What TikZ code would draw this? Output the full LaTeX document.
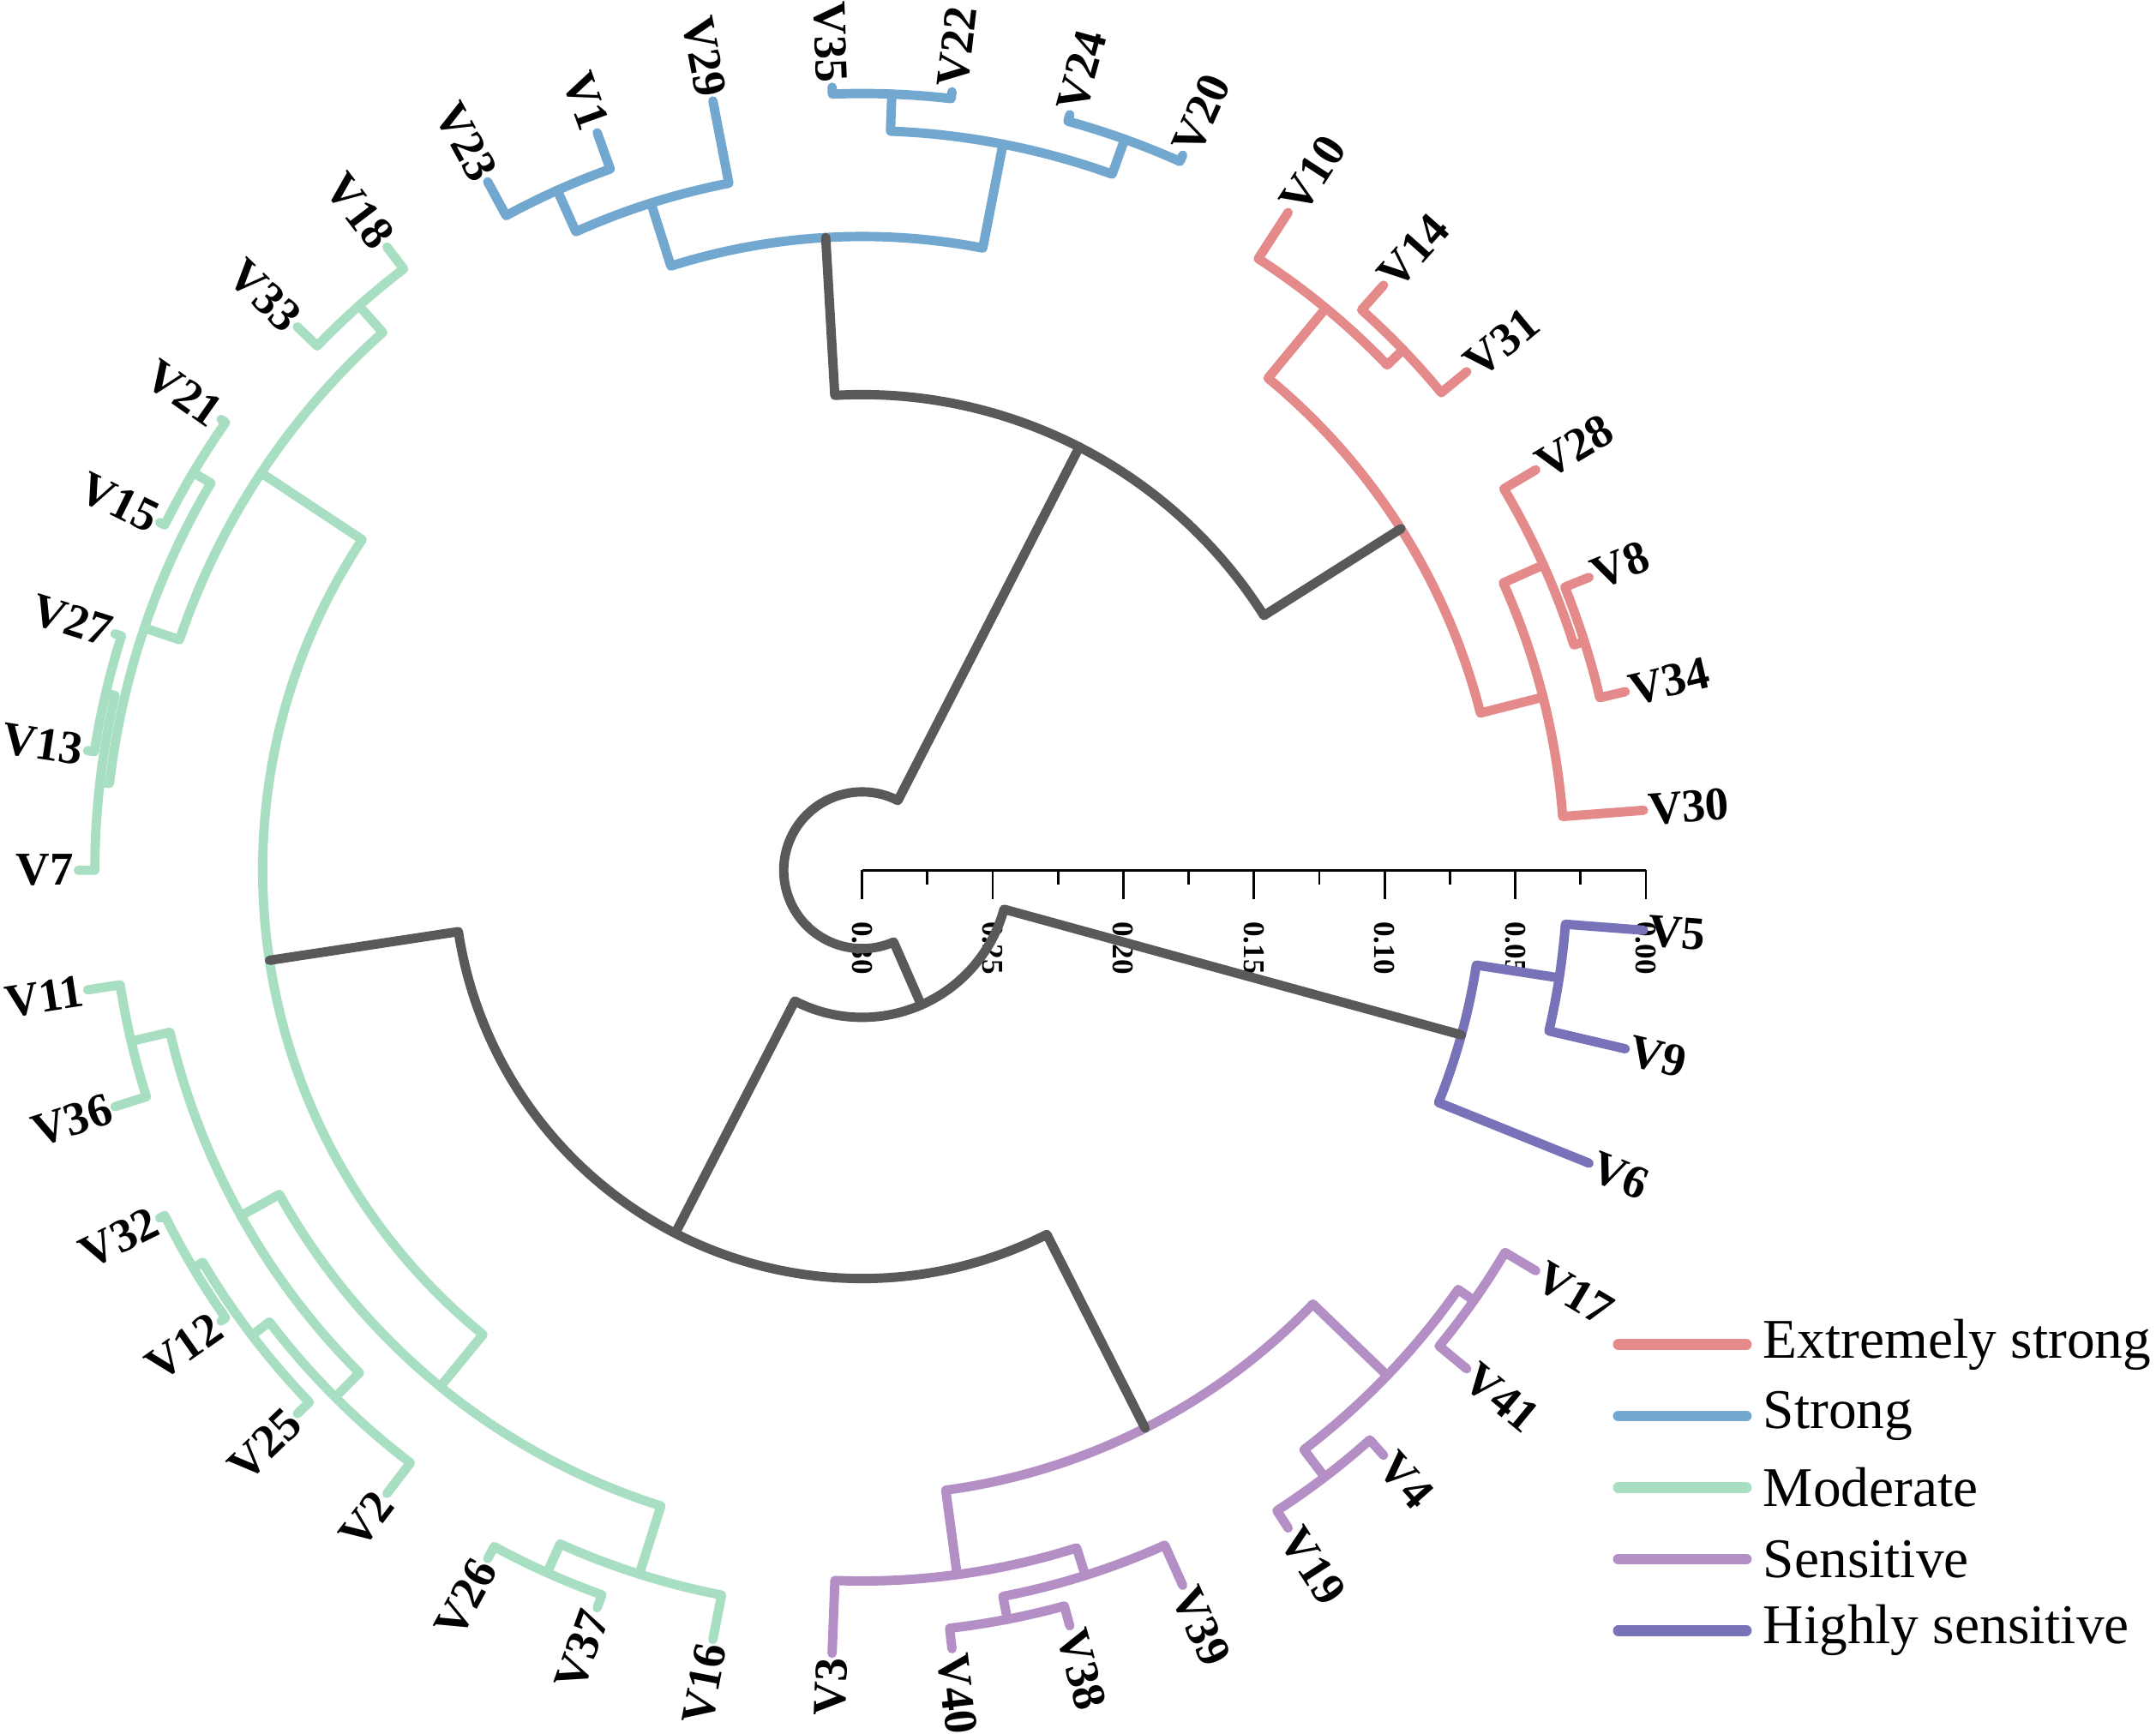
\documentclass[tikz,border=0pt]{standalone}
\usepackage{fontspec}
\setmainfont{Liberation Serif}
\definecolor{cRed}{HTML}{E58A8A}
\definecolor{cBlue}{HTML}{72A7D0}
\definecolor{cGreen}{HTML}{A8DFC3}
\definecolor{cPurp}{HTML}{B48FC6}
\definecolor{cHS}{HTML}{7872B8}
\definecolor{cDark}{HTML}{595959}
\def\s{0.01604}
% branch: color, angle1, r1, angle2, r2, node radius
\newcommand{\brn}[6]{\draw[br,#1] ({#2}:{#3*\s}) -- ({#2}:{#6*\s}) arc[start angle={#2}, end angle={#4}, radius={#6*\s}] -- ({#4}:{#5*\s});}
\newcommand{\lfR}[2]{\node[leaf,anchor=west,rotate=#2] (l#1) at ({#2}:{573*\s}) {#1};}
\newcommand{\lfL}[2]{\node[leaf,anchor=east,rotate=#2-180] (l#1) at ({#2}:{573*\s}) {#1};}
\begin{document}
\begin{tikzpicture}[
  br/.style={line width=3.1pt, line cap=round, line join=round},
  leaf/.style={font=\fontsize{15.6}{15.6}\selectfont\bfseries, inner sep=0pt},
  ticklab/.style={font=\fontsize{10}{10}\selectfont\bfseries, inner sep=0pt, rotate=-90, anchor=west},
  legline/.style={line width=3.6pt, line cap=round},
  legtxt/.style={font=\fontsize{18.6}{18.6}\selectfont, inner sep=0pt, anchor=west},
  axisline/.style={line width=0.8pt, black}
]
\useasboundingbox ({-627*\s},{-628*\s}) rectangle ({941*\s},{633*\s});

% axis
\draw[axisline] (0,0) -- ({570*\s},0);
\foreach \k/\lab in {0/0.30,1/0.25,2/0.20,3/0.15,4/0.10,5/0.05,6/0.00}{
  \draw[axisline] ({\k*95*\s},0) -- ({\k*95*\s},{-21*\s});
  \node[ticklab] (tk\k) at ({\k*95*\s},{-37*\s}) {\lab};
}
\foreach \k in {0,...,5}{
  \draw[axisline] ({(\k*95+47.5)*\s},0) -- ({(\k*95+47.5)*\s},{-10.6*\s});
}

% red
\brn{cRed}{13.171}{570}{21.951}{570}{551}
\brn{cRed}{17.561}{551}{30.732}{570}{543}
\brn{cRed}{4.390}{570}{24.146}{543}{511}
\brn{cRed}{39.512}{570}{48.293}{570}{546}
\brn{cRed}{43.902}{546}{57.073}{570}{530}
\brn{cRed}{14.268}{511}{50.488}{530}{464}
% blue
\brn{cBlue}{65.854}{570}{74.634}{570}{565}
\brn{cBlue}{83.415}{570}{92.195}{570}{565}
\brn{cBlue}{70.244}{565}{87.805}{565}{538}
\brn{cBlue}{109.756}{570}{118.537}{570}{542}
\brn{cBlue}{100.976}{570}{114.146}{542}{509}
\brn{cBlue}{79.024}{538}{107.561}{509}{461}
% green
\brn{cGreen}{127.317}{570}{136.098}{570}{550}
\brn{cGreen}{144.878}{570}{153.659}{570}{566}
\brn{cGreen}{162.439}{570}{171.220}{570}{565}
\brn{cGreen}{166.829}{565}{180}{570}{558}
\brn{cGreen}{149.268}{566}{173.415}{558}{551}
\brn{cGreen}{131.707}{550}{161.341}{551}{524}
\brn{cGreen}{188.780}{570}{197.561}{570}{546}
\brn{cGreen}{206.341}{570}{215.122}{570}{566}
\brn{cGreen}{210.732}{566}{223.902}{570}{558}
\brn{cGreen}{217.317}{558}{232.683}{570}{542}
\brn{cGreen}{193.171}{546}{225.000}{542}{517}
\brn{cGreen}{241.463}{570}{250.244}{570}{560}
\brn{cGreen}{245.854}{560}{259.024}{570}{537}
\brn{cGreen}{209.086}{517}{252.439}{537}{485}
\brn{cGreen}{146.524}{524}{230.762}{485}{436}
% purple
\brn{cPurp}{276.585}{570}{285.366}{570}{555}
\brn{cPurp}{280.976}{555}{294.146}{570}{538}
\brn{cPurp}{267.805}{570}{287.561}{538}{517}
\brn{cPurp}{302.927}{570}{311.707}{570}{555}
\brn{cPurp}{320.488}{570}{329.268}{570}{544}
\brn{cPurp}{307.317}{555}{324.878}{544}{530}
\brn{cPurp}{277.683}{517}{316.098}{530}{455}
% highly sensitive
\brn{cHS}{346.829}{570}{355.610}{570}{513}
\brn{cHS}{338.049}{570}{351.220}{513}{452}
% dark upper levels
\brn{cDark}{32.378}{464}{93.293}{461}{346}
\brn{cDark}{188.643}{436}{296.890}{455}{297}
\brn{cDark}{242.767}{297}{344.634}{452}{107}
\brn{cDark}{62.835}{346}{293.700}{107}{57}

% leaf labels
\lfR{V30}{4.390}
\lfR{V34}{13.171}
\lfR{V8}{21.951}
\lfR{V28}{30.732}
\lfR{V31}{39.512}
\lfR{V14}{48.293}
\lfR{V10}{57.073}
\lfR{V20}{65.854}
\lfR{V24}{74.634}
\lfR{V22}{83.415}
\lfL{V35}{92.195}
\lfL{V29}{100.976}
\lfL{V1}{109.756}
\lfL{V23}{118.537}
\lfL{V18}{127.317}
\lfL{V33}{136.098}
\lfL{V21}{144.878}
\lfL{V15}{153.659}
\lfL{V27}{162.439}
\lfL{V13}{171.220}
\lfL{V7}{180}
\lfL{V11}{188.780}
\lfL{V36}{197.561}
\lfL{V32}{206.341}
\lfL{V12}{215.122}
\lfL{V25}{223.902}
\lfL{V2}{232.683}
\lfL{V26}{241.463}
\lfL{V37}{250.244}
\lfL{V16}{259.024}
\lfL{V3}{267.805}
\lfR{V40}{276.585}
\lfR{V38}{285.366}
\lfR{V39}{294.146}
\lfR{V19}{302.927}
\lfR{V4}{311.707}
\lfR{V41}{320.488}
\lfR{V17}{329.268}
\lfR{V6}{338.049}
\lfR{V9}{346.829}
\lfR{V5}{355.610}

% legend
\draw[legline,cRed]   ({550*\s},{-345*\s}) -- ({643*\s},{-345*\s});
\node[legtxt] (legA) at ({655*\s},{-345*\s}) {Extremely strong};
\draw[legline,cBlue]  ({550*\s},{-397*\s}) -- ({643*\s},{-397*\s});
\node[legtxt] (legB) at ({655*\s},{-397*\s}) {Strong};
\draw[legline,cGreen] ({550*\s},{-449*\s}) -- ({643*\s},{-449*\s});
\node[legtxt] (legC) at ({655*\s},{-449*\s}) {Moderate};
\draw[legline,cPurp]  ({550*\s},{-501*\s}) -- ({643*\s},{-501*\s});
\node[legtxt] (legD) at ({655*\s},{-501*\s}) {Sensitive};
\draw[legline,cHS]    ({550*\s},{-553*\s}) -- ({643*\s},{-553*\s});
\node[legtxt] (legE) at ({655*\s},{-553*\s}) {Highly sensitive};
\end{tikzpicture}
\end{document}
